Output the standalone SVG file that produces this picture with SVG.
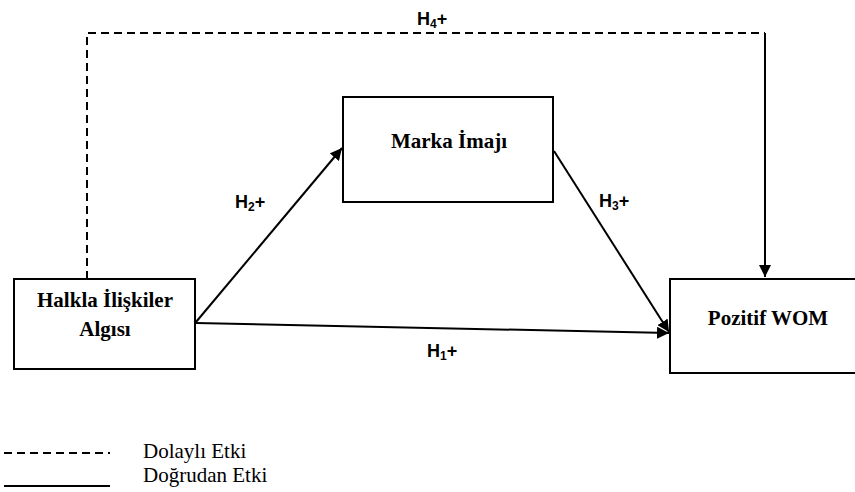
<svg xmlns="http://www.w3.org/2000/svg" width="855" height="492" viewBox="0 0 855 492">
<style>
.box{fill:#fff;stroke:#000;stroke-width:2}
.nl{font-family:"Liberation Serif",serif;font-weight:bold;font-size:21px;text-anchor:middle;fill:#000}
.hl{font-family:"Liberation Sans",sans-serif;font-weight:bold;font-size:18px;fill:#000}
.sub{font-size:12px}
.lg{font-family:"Liberation Serif",serif;font-size:21px;fill:#000}
.c{fill:none;stroke:#000;stroke-width:2}
.d{stroke-dasharray:8,5}
</style>
<defs>
<marker id="ah" viewBox="0 0 10 10" refX="10" refY="5" markerWidth="6" markerHeight="6" orient="auto" markerUnits="strokeWidth">
<path d="M0,0 L10,5 L0,10 z" fill="#000"/>
</marker>
</defs>
<g id="connectors">
<polyline class="c d" points="87,279 87,33 765,33"/>
<line class="c" x1="765" y1="33" x2="765" y2="277" marker-end="url(#ah)"/>
<line class="c" x1="196" y1="322" x2="342" y2="148" marker-end="url(#ah)"/>
<line class="c" x1="554" y1="151" x2="669" y2="332" marker-end="url(#ah)"/>
<line class="c" x1="196" y1="323" x2="669" y2="333" marker-end="url(#ah)"/>
<text class="hl" x="417" y="25">H<tspan class="sub" dy="3">4</tspan><tspan dy="-3">+</tspan></text>
<text class="hl" x="235" y="208">H<tspan class="sub" dy="3">2</tspan><tspan dy="-3">+</tspan></text>
<text class="hl" x="599" y="207">H<tspan class="sub" dy="3">3</tspan><tspan dy="-3">+</tspan></text>
<text class="hl" x="427" y="357">H<tspan class="sub" dy="3">1</tspan><tspan dy="-3">+</tspan></text>
</g>
<g id="halkla">
<rect class="box" x="14" y="279" width="181" height="90"/>
<text class="nl" x="105" y="307">Halkla İlişkiler</text>
<text class="nl" x="105" y="336">Algısı</text>
</g>
<g id="marka">
<rect class="box" x="343" y="97" width="210" height="105"/>
<text class="nl" x="449" y="148">Marka İmajı</text>
</g>
<g id="wom">
<rect class="box" x="670" y="279" width="196" height="94"/>
<text class="nl" x="768" y="325">Pozitif WOM</text>
</g>
<g id="legend">
<line class="c d" x1="4" y1="453" x2="110" y2="453"/>
<line class="c" x1="4" y1="486" x2="110" y2="486" stroke="#333"/>
<text class="lg" x="143" y="458">Dolaylı Etki</text>
<text class="lg" x="143" y="482">Doğrudan Etki</text>
</g>
</svg>
